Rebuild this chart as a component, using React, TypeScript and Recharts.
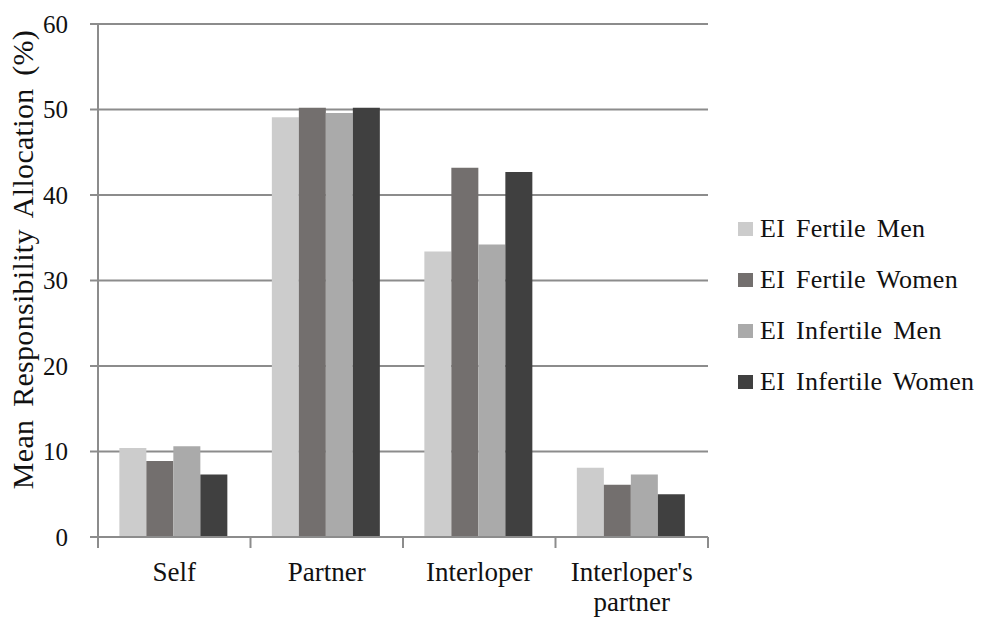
import React from "react";
import { BarChart, Bar, XAxis, YAxis, CartesianGrid, Legend } from "recharts";

const categories = ["Self", "Partner", "Interloper", "Interloper's partner"];
const fertileMen = [10.4, 49.1, 33.4, 8.1];
const fertileWomen = [8.9, 50.2, 43.2, 6.1];
const infertileMen = [10.6, 49.6, 34.2, 7.3];
const infertileWomen = [7.3, 50.2, 42.7, 5.0];
const yTicks = [0, 10, 20, 30, 40, 50, 60];

const seriesNames = ["EI Fertile Men", "EI Fertile Women", "EI Infertile Men", "EI Infertile Women"];
const colors = ["#cccccc", "#736f6e", "#aaaaaa", "#404040"];
const keys = ["fm", "fw", "im", "iw"];
const yLabel = "Mean Responsibility Allocation (%)";

const data = categories.map((c, i) => ({
  name: c,
  fm: fertileMen[i],
  fw: fertileWomen[i],
  im: infertileMen[i],
  iw: infertileWomen[i],
}));

const FONT = "'Liberation Serif', 'Times New Roman', serif";
const AXIS = "#8c8c8c";

const CatTick = (props: any) => {
  const { x, y, payload, index, width } = props;
  const band = width / categories.length;
  const words: string[] = payload.value === "Interloper's partner" ? ["Interloper's", "partner"] : [payload.value];
  return (
    <g>
      <line x1={x - band / 2} x2={x - band / 2} y1={y - 8} y2={y + 3} stroke={AXIS} strokeWidth={2} />
      {index === categories.length - 1 && (
        <line x1={x + band / 2} x2={x + band / 2} y1={y - 8} y2={y + 3} stroke={AXIS} strokeWidth={2} />
      )}
      {words.map((w, k) => (
        <text key={k} x={x} y={y + 36 + k * 30} textAnchor="middle" fontFamily={FONT} fontSize={27} fill="#111">
          {w}
        </text>
      ))}
    </g>
  );
};

const YLabel = (props: any) => {
  const { viewBox } = props;
  const cy = viewBox.y + viewBox.height / 2 - 21;
  const cx = 33;
  return (
    <text
      x={cx}
      y={cy}
      transform={`rotate(-90, ${cx}, ${cy})`}
      textAnchor="middle"
      fontFamily={FONT}
      fontSize={30}
      letterSpacing={0.3}
      wordSpacing={5}
      fill="#111"
    >
      {yLabel}
    </text>
  );
};

const LegendContent = () => (
  <div style={{ paddingLeft: 30, fontFamily: FONT, fontSize: 26, color: "#111", letterSpacing: 0.3, wordSpacing: 4 }}>
    {seriesNames.map((n, i) => (
      <div key={n} style={{ display: "flex", alignItems: "center", height: 51 }}>
        <div style={{ width: 15, height: 14, flexShrink: 0, background: colors[i], marginRight: 7 }} />
        <span style={{ whiteSpace: "nowrap" }}>{n}</span>
      </div>
    ))}
  </div>
);

export default function App() {
  return (
    <div style={{ position: "absolute", left: 0, top: 0, background: "#fff" }}>
      <BarChart
        width={985}
        height={619}
        data={data}
        margin={{ top: 24, right: 7, bottom: 12, left: 0 }}
        barCategoryGap="14%"
        barGap={0}
      >
        <CartesianGrid vertical={false} stroke={AXIS} strokeWidth={2} />
        <XAxis
          dataKey="name"
          height={70}
          axisLine={{ stroke: AXIS, strokeWidth: 2 }}
          tickLine={false}
          tick={<CatTick />}
          interval={0}
        />
        <YAxis
          width={98}
          domain={[0, 60]}
          ticks={yTicks}
          axisLine={{ stroke: AXIS, strokeWidth: 2 }}
          tickLine={{ stroke: AXIS, strokeWidth: 2 }}
          tickSize={8}
          tick={{ fontFamily: FONT, fontSize: 25, fill: "#111" }}
          tickMargin={22}
          label={<YLabel />}
        />
        <Legend
          layout="vertical"
          align="right"
          verticalAlign="middle"
          content={<LegendContent />}
          wrapperStyle={{ width: 270, top: 203 }}
        />
        {keys.map((k, i) => (
          <Bar key={k} dataKey={k} name={seriesNames[i]} fill={colors[i]} isAnimationActive={false} />
        ))}
      </BarChart>
    </div>
  );
}
